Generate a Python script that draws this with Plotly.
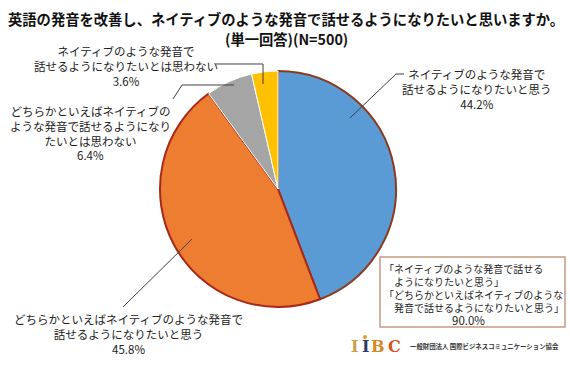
import plotly.graph_objects as go

W, H = 570, 365

categories = [
    "ネイティブのような発音で<br>話せるようになりたいと思う",
    "どちらかといえばネイティブのような発音で<br>話せるようになりたいと思う",
    "どちらかといえばネイティブの<br>ような発音で話せるようになり<br>たいとは思わない",
    "ネイティブのような発音で<br>話せるようになりたいとは思わない",
]
values = [44.2, 45.8, 6.4, 3.6]
colors = ["#5B9BD5", "#ED7D31", "#A5A5A5", "#FFC000"]
line_colors = ["#8B3A1E", "#A8281C", "#FFFFFF", "#FFFFFF"]
line_widths = [2, 2, 1, 1]

title_line1 = "英語の発音を改善し、ネイティブのような発音で話せるようになりたいと思いますか。"
title_line2 = "(単一回答)(N=500)"
box_lines = ["「ネイティブのような発音で話せる",
             "　ようになりたいと思う」",
             "「どちらかといえばネイティブのような",
             "　発音で話せるようになりたいと思う」"]
box_total = "90.0%"
org_name = "一般財団法人 国際ビジネスコミュニケーション協会"

FONT = "Noto Sans CJK JP"


def px(x, y):
    return x / W, 1 - y / H


cx, cy, r = 278, 189, 118
x0, y1 = px(cx - r, cy - r)
x1, y0 = px(cx + r, cy + r)

fig = go.Figure(go.Pie(
    labels=categories,
    values=values,
    sort=False,
    direction="clockwise",
    rotation=0,
    marker=dict(colors=colors, line=dict(color=line_colors, width=line_widths)),
    textinfo="none",
    hoverinfo="label+percent",
    domain=dict(x=[x0, x1], y=[y0, y1]),
    showlegend=False,
))

annotations = []


def add_text(text, x, y, size, color="#222222", xanchor="center", yanchor="middle",
             family=FONT, align="center"):
    ax, ay = px(x, y)
    annotations.append(dict(x=ax, y=ay, xref="paper", yref="paper", text=text,
                            showarrow=False, align=align,
                            font=dict(family=family, size=size, color=color),
                            xanchor=xanchor, yanchor=yanchor, borderpad=0))


# Title
add_text("<b>%s</b>" % title_line1, 286, 18, 14.3, color="#111111")
add_text("<b>%s</b>" % title_line2, 286, 38, 14.3, color="#111111")

# slice labels: (label index, center x, top y, separate percent y or None)
label_pos = [(0, 477, 65, None), (1, 128, 310, None), (2, 90, 102, 155), (3, 126, 42, None)]
for idx, lx, ty, py in label_pos:
    if py is None:
        add_text(categories[idx] + "<br>%.1f%%" % values[idx], lx, ty, 11.5, yanchor="top")
    else:
        add_text(categories[idx], lx, ty, 11.5, yanchor="top")
        add_text("%.1f%%" % values[idx], lx, py, 11.5)

# summary box
add_text("<br>".join(box_lines), 383, 260, 10, xanchor="left", yanchor="top", align="left")
add_text(box_total, 468, 319.5, 11.5)

bx0, by0 = px(380, 257)
bx1, by1 = px(565, 327)
shapes = [dict(type="rect", xref="paper", yref="paper", x0=bx0, y0=by0, x1=bx1, y1=by1,
               line=dict(color="#C49A84", width=1.5), fillcolor="rgba(0,0,0,0)")]

# logo
logo_letters = [("I", 354, "#C9A04A"), ("I", 365, "#2B3A67"), ("B", 378, "#D4892A"), ("C", 394, "#D9541E")]
for ch, lx, col in logo_letters:
    add_text("<b>%s</b>" % ch, lx, 346, 16, color=col, family="DejaVu Serif")
ddx, ddy = px(365, 337)
shapes.append(dict(type="circle", xref="paper", yref="paper",
                   x0=ddx - 2 / W, x1=ddx + 2 / W, y0=ddy - 2 / H, y1=ddy + 2 / H,
                   fillcolor="#E0A030", line=dict(width=0)))
add_text("<b>%s</b>" % org_name, 409, 346, 6.4, color="#333333", xanchor="left")

leaders = [
    [(350, 118), (396, 74), (404, 74)],
    [(192, 239), (123, 307)],
    [(173, 99), (182, 85), (234, 85)],
    [(216, 64), (263, 64), (263, 84)],
]
for pts in leaders:
    path = ""
    for i, (x, y) in enumerate(pts):
        qx, qy = px(x, y)
        path += ("M" if i == 0 else "L") + " %f %f " % (qx, qy)
    shapes.append(dict(type="path", xref="paper", yref="paper", path=path,
                       line=dict(color="#404040", width=1)))

fig.update_layout(
    width=W, height=H,
    margin=dict(l=0, r=0, t=0, b=0),
    paper_bgcolor="white", plot_bgcolor="white",
    annotations=annotations, shapes=shapes,
)

fig.write_html("out.html", config={"displayModeBar": False},
               post_script="document.body.style.margin='0';")
